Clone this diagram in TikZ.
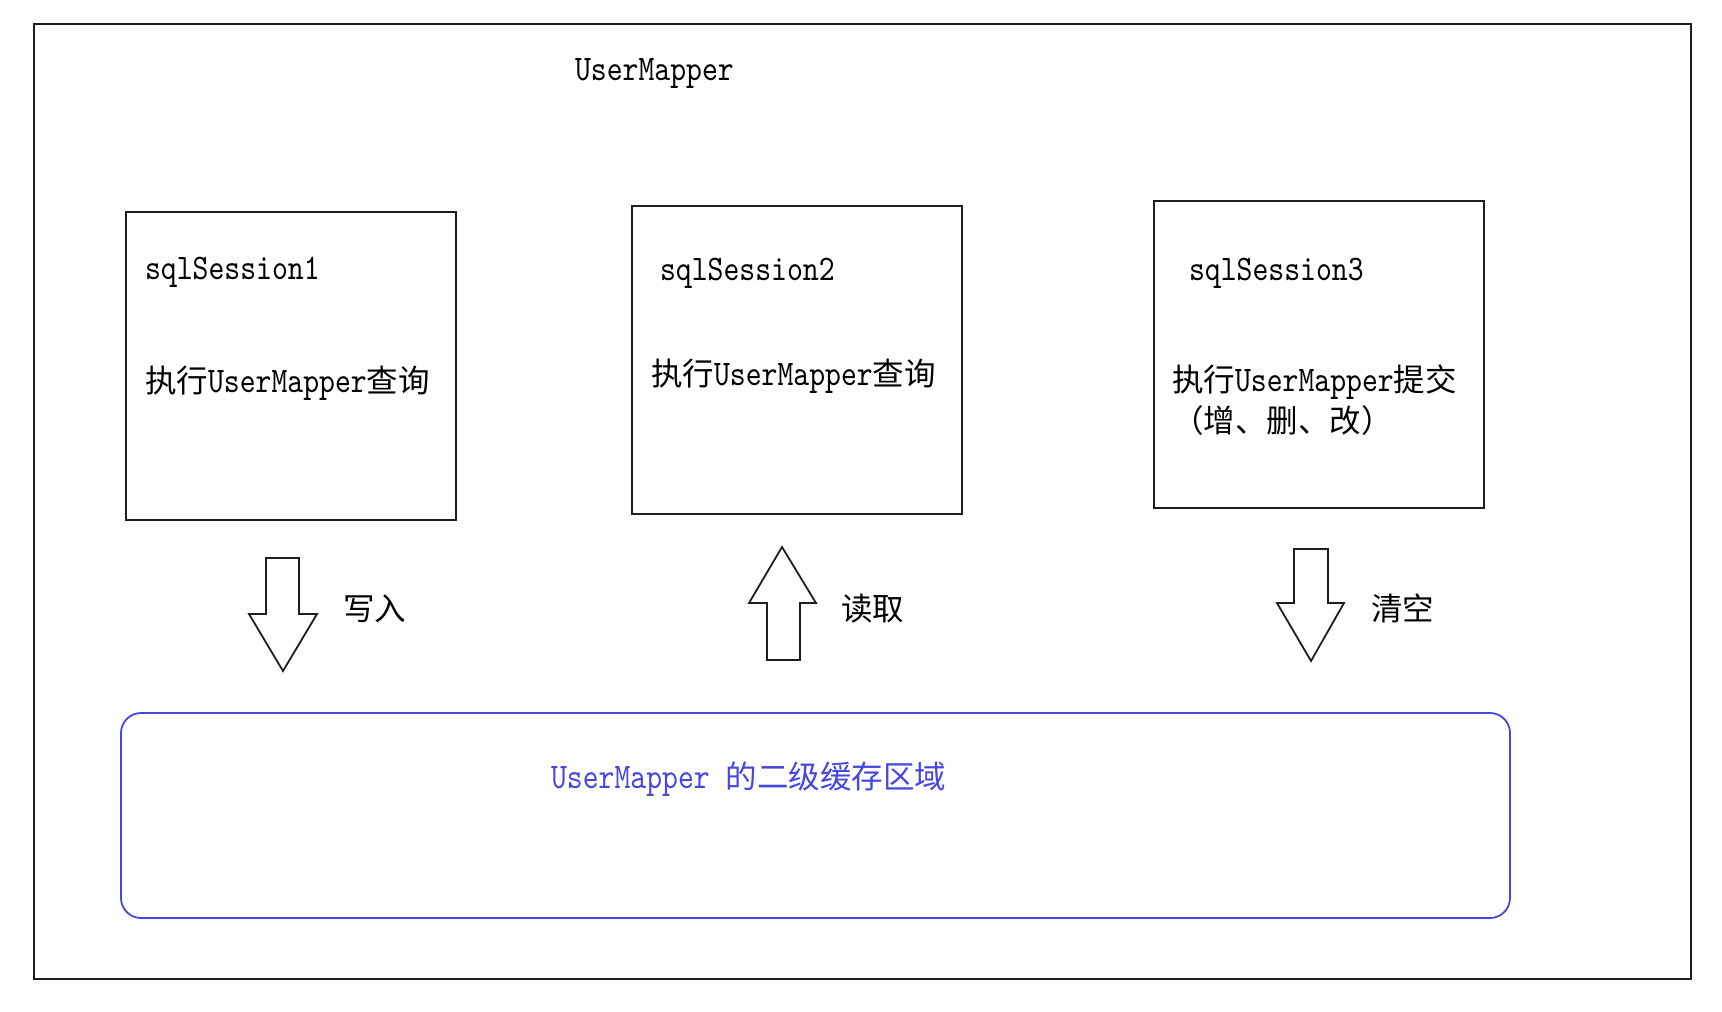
\documentclass[tikz,border=0pt]{standalone}
\usepackage{fontspec}
\setmainfont{lmmono10-regular.otf}[FakeStretch=0.84]
\newfontfamily\cjk{Noto Sans CJK SC}[Scale=0.875]
\newcommand\zh[1]{{\cjk #1}}
\definecolor{cacheblue}{RGB}{70,70,225}
\definecolor{linegray}{RGB}{30,30,30}
\begin{document}
\begin{tikzpicture}[x=1pt,y=-1pt,
  every node/.style={inner sep=0pt,outer sep=0pt,font=\fontsize{36}{40}\selectfont},
  txt/.style={anchor=base west},
  sessbox/.style={draw=linegray,line width=1.8pt},
  blockarrow/.style={draw=linegray,line width=1.8pt,line join=miter,fill=white},
  cachebox/.style={draw=cacheblue,line width=1.8pt,rounded corners=20pt}]
\useasboundingbox (0,0) rectangle (1722,1012);
% outer frame
\draw[draw=linegray,line width=1.8pt] (34,24) rectangle (1691,979);
\node[txt] (title) at (575,80) {UserMapper};
% session boxes
\draw[sessbox] (126,212) rectangle (456,520);
\draw[sessbox] (632,206) rectangle (962,514);
\draw[sessbox] (1154,201) rectangle (1484,508);
\node[txt] (s1) at (145,279) {sqlSession1};
\node[txt] (q1) at (145,392) {\zh{执行}UserMapper\zh{查询}};
\node[txt] (s2) at (660,280) {sqlSession2};
\node[txt] (q2) at (651,385) {\zh{执行}UserMapper\zh{查询}};
\node[txt] (s3) at (1189,280) {sqlSession3};
\node[txt] (c3) at (1172,391) {\zh{执行}UserMapper\zh{提交}};
\node[txt] (c3b) at (1172,432) {\zh{（增、删、改）}};
% block arrows
\draw[blockarrow] (266,558) -- (299,558) -- (299,614) -- (317,614) -- (283,671) -- (249,614) -- (266,614) -- cycle;
\draw[blockarrow] (767,660) -- (800,660) -- (800,603) -- (816,603) -- (782,547) -- (749,603) -- (767,603) -- cycle;
\draw[blockarrow] (1294,549) -- (1328,549) -- (1328,603) -- (1344,603) -- (1311,661) -- (1277,603) -- (1294,603) -- cycle;
\node[txt] (w) at (343,620) {\zh{写入}};
\node[txt] (r) at (841,620) {\zh{读取}};
\node[txt] (e) at (1371,620) {\zh{清空}};
% cache region
\draw[cachebox] (121,713) rectangle (1510,918);
\node[txt,text=cacheblue] (cache) at (551,788) {UserMapper \zh{的二级缓存区域}};
\end{tikzpicture}
\end{document}
